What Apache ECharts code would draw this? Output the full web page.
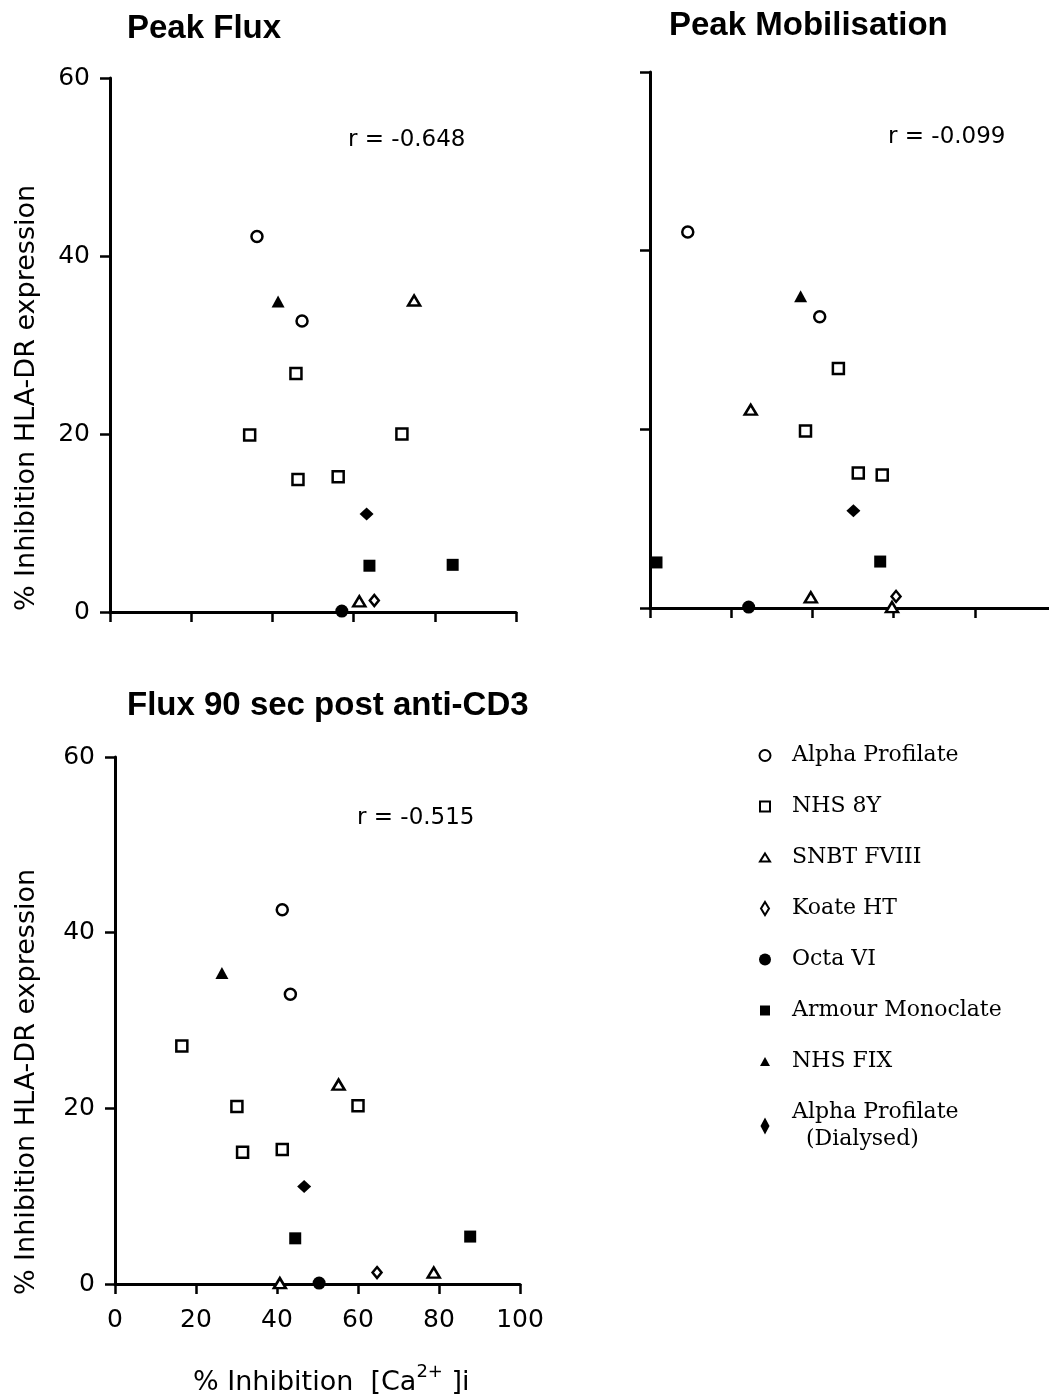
<!DOCTYPE html>
<html>
<head>
<meta charset="utf-8">
<script src="https://cdn.jsdelivr.net/npm/echarts@6/dist/echarts.min.js"></script>
<style>
  html, body { margin: 0; padding: 0; background: #fff; }
  #chart { width: 1049px; height: 1397px; }
</style>
</head>
<body>
<div id="chart"></div>
<script>
// Concentrate preparations (legend order)
const productNames = [
  'Alpha Profilate', 'NHS 8Y', 'SNBT FVIII', 'Koate HT',
  'Octa VI', 'Armour Monoclate', 'NHS FIX', 'Alpha Profilate\n  (Dialysed)'
];

// Panel headings and correlation coefficients
const panelTitles = ['Peak Flux', 'Peak Mobilisation', 'Flux 90 sec post anti-CD3'];
const panelCorrelations = ['r = -0.648', 'r = -0.099', 'r = -0.515'];

// Axis ticks
const xTicks = [0, 20, 40, 60, 80, 100];
const yTicks = [0, 20, 40, 60];

// [% inhibition [Ca2+]i, % inhibition HLA-DR expression]
// Peak Flux
const fluxAlphaProfilate = [[36.2, 42.2], [47.3, 32.7]];
const fluxNhs8Y = [[45.8, 26.8], [34.4, 19.9], [71.9, 20.0], [46.3, 14.9], [56.2, 15.2]];
const fluxSnbtFviii = [[74.9, 35.0], [61.4, 1.2]];
const fluxKoateHt = [[65.1, 1.3]];
const fluxOctaVi = [[57.1, 0.1]];
const fluxArmourMonoclate = [[63.9, 5.2], [84.4, 5.3]];
const fluxNhsFix = [[41.4, 34.9]];
const fluxAlphaDialysed = [[63.2, 11.0]];

// Peak Mobilisation
const mobAlphaProfilate = [[9.3, 42.1], [41.8, 32.6]];
const mobNhs8Y = [[46.4, 26.8], [38.3, 19.8], [51.3, 15.1], [57.2, 14.9]];
const mobSnbtFviii = [[24.8, 22.2], [39.6, 1.2], [59.6, 0.1]];
const mobKoateHt = [[60.6, 1.3]];
const mobOctaVi = [[24.3, 0.1]];
const mobArmourMonoclate = [[1.6, 5.1], [56.7, 5.2]];
const mobNhsFix = [[37.1, 34.9]];
const mobAlphaDialysed = [[50.1, 10.9]];

// Flux 90 sec post anti-CD3
const f90AlphaProfilate = [[41.3, 42.6], [43.3, 33.0]];
const f90Nhs8Y = [[16.5, 27.1], [30.1, 20.2], [60.0, 20.3], [31.5, 15.0], [41.3, 15.3]];
const f90SnbtFviii = [[55.2, 22.7], [40.7, 0.1], [78.7, 1.3]];
const f90KoateHt = [[64.7, 1.3]];
const f90OctaVi = [[50.4, 0.1]];
const f90ArmourMonoclate = [[44.5, 5.2], [87.7, 5.4]];
const f90NhsFix = [[26.4, 35.4]];
const f90AlphaDialysed = [[46.7, 11.1]];

const panelData = [
  [fluxAlphaProfilate, fluxNhs8Y, fluxSnbtFviii, fluxKoateHt, fluxOctaVi, fluxArmourMonoclate, fluxNhsFix, fluxAlphaDialysed],
  [mobAlphaProfilate, mobNhs8Y, mobSnbtFviii, mobKoateHt, mobOctaVi, mobArmourMonoclate, mobNhsFix, mobAlphaDialysed],
  [f90AlphaProfilate, f90Nhs8Y, f90SnbtFviii, f90KoateHt, f90OctaVi, f90ArmourMonoclate, f90NhsFix, f90AlphaDialysed]
];

// Marker appearance per preparation
const OPEN = { color: '#fff', borderColor: '#000', borderWidth: 2.5 };
const FILLED = { color: '#000', borderColor: '#000', borderWidth: 0 };
const markerStyles = [
  { symbol: 'circle', size: 11, style: OPEN },
  { symbol: 'rect', size: 11, style: OPEN },
  { symbol: 'triangle', size: [12, 10], style: OPEN },
  { symbol: 'diamond', size: [9, 11], style: OPEN },
  { symbol: 'circle', size: 13, style: FILLED },
  { symbol: 'rect', size: 12, style: FILLED },
  { symbol: 'triangle', size: [13, 12], style: FILLED },
  { symbol: 'diamond', size: [14, 13], style: FILLED }
];
// Legend glyphs drawn inside a common 18x18 frame so each keeps its own size
const FRAME = 'M0,0M18,18';
const legendIcons = [
  'path://' + FRAME + 'M14.5,9A5.5,5.5,0,1,1,3.5,9A5.5,5.5,0,1,1,14.5,9Z',
  'path://' + FRAME + 'M4,4L14,4L14,14L4,14Z',
  'path://' + FRAME + 'M9,5L14,13L4,13Z',
  'path://' + FRAME + 'M9,2.5L13,9L9,15.5L5,9Z',
  'path://' + FRAME + 'M15,9A6,6,0,1,1,3,9A6,6,0,1,1,15,9Z',
  'path://' + FRAME + 'M4,4L14,4L14,14L4,14Z',
  'path://' + FRAME + 'M9,4.5L14,13.5L4,13.5Z',
  'path://' + FRAME + 'M9,0.5L13.5,9L9,17.5L4.5,9Z'
];

const SANS = 'DejaVu Sans';
const grids = [
  { left: 110, top: 78, width: 406, height: 534 },
  { left: 650, top: 72, width: 406, height: 536 },
  { left: 115, top: 757, width: 405, height: 527 }
].map(g => Object.assign({ outerBoundsMode: 'none', containLabel: false }, g));

const showLabels = [
  { x: false, y: true },
  { x: false, y: false },
  { x: true, y: true }
];

const xAxes = grids.map((g, i) => ({
  type: 'value', gridIndex: i,
  min: xTicks[0], max: xTicks[xTicks.length - 1], interval: xTicks[1] - xTicks[0],
  splitLine: { show: false },
  axisLine: { show: true, onZero: false, lineStyle: { color: '#000', width: 3 } },
  axisTick: { show: true, length: 10, lineStyle: { color: '#000', width: 2.5 } },
  axisLabel: { show: showLabels[i].x, color: '#000', fontFamily: SANS, fontSize: 25, margin: 24 }
}));
const yAxes = grids.map((g, i) => ({
  type: 'value', gridIndex: i,
  min: yTicks[0], max: yTicks[yTicks.length - 1], interval: yTicks[1] - yTicks[0],
  splitLine: { show: false },
  axisLine: { show: true, onZero: false, lineStyle: { color: '#000', width: 3 } },
  axisTick: { show: true, length: 10, lineStyle: { color: '#000', width: 2.5 } },
  axisLabel: { show: showLabels[i].y, color: '#000', fontFamily: SANS, fontSize: 25, margin: 20 }
}));

const series = [];
panelData.forEach((groups, p) => {
  groups.forEach((points, k) => {
    const m = markerStyles[k];
    series.push({
      type: 'scatter',
      name: productNames[k],
      xAxisIndex: p, yAxisIndex: p,
      data: points,
      symbol: m.symbol,
      symbolSize: m.size,
      itemStyle: Object.assign({ opacity: 1 }, m.style),
      clip: false,
      silent: true,
      animation: false,
      z: 3
    });
  });
});

const titlePos = [[127, 29], [669, 26], [127, 706]];
const corrPos = [[348, 140], [888, 137], [357, 818]];

const graphics = [];
panelTitles.forEach((t, i) => {
  graphics.push({
    type: 'text', x: titlePos[i][0], y: titlePos[i][1], silent: true,
    style: { text: t, fill: '#000', font: 'bold 33px "Liberation Sans", Arial, sans-serif', align: 'left', verticalAlign: 'middle' }
  });
});
panelCorrelations.forEach((t, i) => {
  graphics.push({
    type: 'text', x: corrPos[i][0], y: corrPos[i][1], silent: true,
    style: { text: t, fill: '#000', font: '23px "DejaVu Sans", sans-serif', align: 'left', verticalAlign: 'middle' }
  });
});
// y-axis names
[[27, 398], [27, 1082]].forEach(pos => {
  graphics.push({
    type: 'text', x: pos[0], y: pos[1], rotation: Math.PI / 2, silent: true,
    style: { text: '% Inhibition HLA-DR expression', fill: '#000', font: '27px "DejaVu Sans", sans-serif', align: 'center', verticalAlign: 'middle' }
  });
});
// x-axis name of the lower panel
graphics.push({
  type: 'text', x: 193, y: 1383, silent: true,
  style: {
    text: '{b|% Inhibition  [Ca}{s|2+}{b| ]i}',
    fill: '#000', align: 'left', verticalAlign: 'middle',
    rich: {
      b: { fontFamily: SANS, fontSize: 27, lineHeight: 40, fill: '#000' },
      s: { fontFamily: SANS, fontSize: 18, lineHeight: 22, verticalAlign: 'top', fill: '#000' }
    }
  }
});

const chart = echarts.init(document.getElementById('chart'), null, { renderer: 'canvas' });
chart.setOption({
  backgroundColor: '#fff',
  animation: false,
  grid: grids,
  xAxis: xAxes,
  yAxis: yAxes,
  legend: {
    orient: 'vertical',
    left: 755, top: 742,
    padding: 0,
    itemWidth: 44, itemHeight: 18,
    itemGap: 24,
    selectedMode: false,
    symbolKeepAspect: true,
    textStyle: { fontFamily: 'DejaVu Serif', fontSize: 22, lineHeight: 27, color: '#000' },
    data: productNames.map((n, k) => ({
      name: n,
      icon: legendIcons[k],
      itemStyle: Object.assign({}, markerStyles[k].style, { borderWidth: markerStyles[k].style === OPEN ? 2 : 0 })
    }))
  },
  graphic: graphics,
  series: series
});
</script>
</body>
</html>
